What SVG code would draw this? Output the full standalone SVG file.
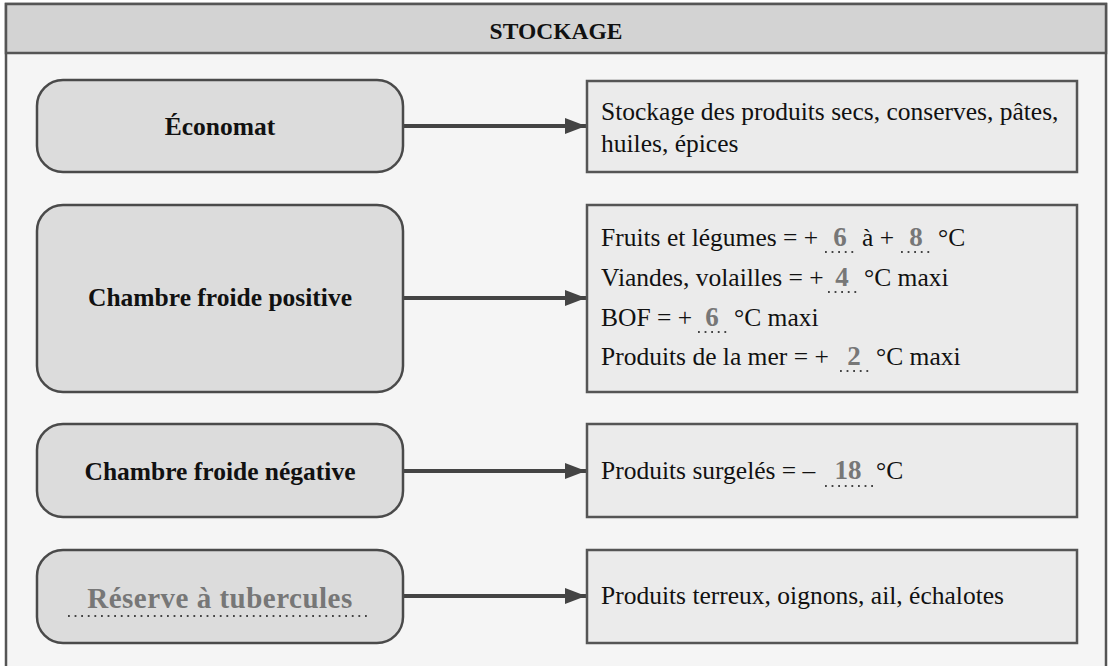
<svg xmlns="http://www.w3.org/2000/svg" width="1111" height="666" viewBox="0 0 1111 666">
<style>
.frame{fill:#f5f5f5;stroke:#555;stroke-width:2.5}
.head{fill:#d3d3d3;stroke:#555;stroke-width:2.5}
.lbox{fill:#dcdcdc;stroke:#4a4a4a;stroke-width:2.5}
.rbox{fill:#ebebeb;stroke:#555;stroke-width:2.5}
.title{font-family:"Liberation Serif",serif;font-weight:bold;font-size:23.5px;fill:#111;text-anchor:middle}
.lbl{font-family:"Liberation Serif",serif;font-weight:bold;font-size:25.5px;fill:#111;text-anchor:middle}
.fill{font-family:"Liberation Serif",serif;font-weight:bold;font-size:29px;fill:#777;text-anchor:middle;letter-spacing:0.5px}
.txt{font-family:"Liberation Serif",serif;font-size:25.5px;fill:#111}
.num{font-family:"Liberation Serif",serif;font-weight:bold;font-size:27px;fill:#777;text-anchor:middle}
.dots{stroke:#444;stroke-width:1.8;stroke-dasharray:1.8 4.8;fill:none}
.conn{stroke:#444;stroke-width:4;fill:none}
</style>
<defs>
<marker id="arr" markerWidth="22" markerHeight="18" refX="21" refY="8" orient="auto" markerUnits="userSpaceOnUse">
<path d="M0,0 L21,8 L0,16 Z" fill="#444"/>
</marker>
</defs>
<rect x="0" y="0" width="1111" height="666" fill="#ffffff"/>
<g id="frame">
<rect class="frame" x="6" y="4" width="1100" height="690"/>
<rect class="head" x="6" y="4" width="1100" height="49"/>
<text class="title" x="556" y="39">STOCKAGE</text>
</g>
<g id="connectors">
<line class="conn" x1="404" y1="126" x2="586" y2="126" marker-end="url(#arr)"/>
<line class="conn" x1="404" y1="298" x2="586" y2="298" marker-end="url(#arr)"/>
<line class="conn" x1="404" y1="471" x2="586" y2="471" marker-end="url(#arr)"/>
<line class="conn" x1="404" y1="596" x2="586" y2="596" marker-end="url(#arr)"/>
</g>
<g id="economat">
<rect class="lbox" x="37" y="80" width="366" height="92" rx="26"/>
<text class="lbl" x="220" y="135">Économat</text>
</g>
<g id="cf-positive">
<rect class="lbox" x="37" y="205" width="366" height="187" rx="26"/>
<text class="lbl" x="220" y="306">Chambre froide positive</text>
</g>
<g id="cf-negative">
<rect class="lbox" x="37" y="424" width="366" height="93" rx="26"/>
<text class="lbl" x="220" y="480">Chambre froide négative</text>
</g>
<g id="reserve">
<rect class="lbox" x="37" y="550" width="366" height="93" rx="26"/>
<text class="fill" x="220" y="608">Réserve à tubercules</text>
<line class="dots" x1="68" y1="616" x2="368" y2="616"/>
</g>
<g id="desc-economat">
<rect class="rbox" x="587" y="81" width="490" height="91"/>
<text class="txt" x="601" y="120">Stockage des produits secs, conserves, pâtes,</text>
<text class="txt" x="601" y="152">huiles, épices</text>
</g>
<g id="desc-positive">
<rect class="rbox" x="587" y="205" width="490" height="187"/>
<text class="txt" x="601" y="246">Fruits et légumes = +</text>
<text class="num" x="840" y="246">6</text>
<line class="dots" x1="825" y1="252" x2="858" y2="252"/>
<text class="txt" x="862" y="246">à +</text>
<text class="num" x="916" y="246">8</text>
<line class="dots" x1="901" y1="252" x2="934" y2="252"/>
<text class="txt" x="938" y="246">°C</text>
<text class="txt" x="601" y="286">Viandes, volailles = +</text>
<text class="num" x="842" y="286">4</text>
<line class="dots" x1="828" y1="292" x2="861" y2="292"/>
<text class="txt" x="864" y="286">°C maxi</text>
<text class="txt" x="601" y="326">BOF = +</text>
<text class="num" x="712" y="326">6</text>
<line class="dots" x1="698" y1="332" x2="731" y2="332"/>
<text class="txt" x="734" y="326">°C maxi</text>
<text class="txt" x="601" y="365">Produits de la mer = +</text>
<text class="num" x="854" y="365">2</text>
<line class="dots" x1="840" y1="371" x2="873" y2="371"/>
<text class="txt" x="876" y="365">°C maxi</text>
</g>
<g id="desc-negative">
<rect class="rbox" x="587" y="424" width="490" height="93"/>
<text class="txt" x="601" y="479">Produits surgelés = –</text>
<text class="num" x="848" y="479">18</text>
<line class="dots" x1="825" y1="486" x2="873" y2="486"/>
<text class="txt" x="876" y="479">°C</text>
</g>
<g id="desc-reserve">
<rect class="rbox" x="587" y="550" width="490" height="93"/>
<text class="txt" x="601" y="604">Produits terreux, oignons, ail, échalotes</text>
</g>
</svg>
